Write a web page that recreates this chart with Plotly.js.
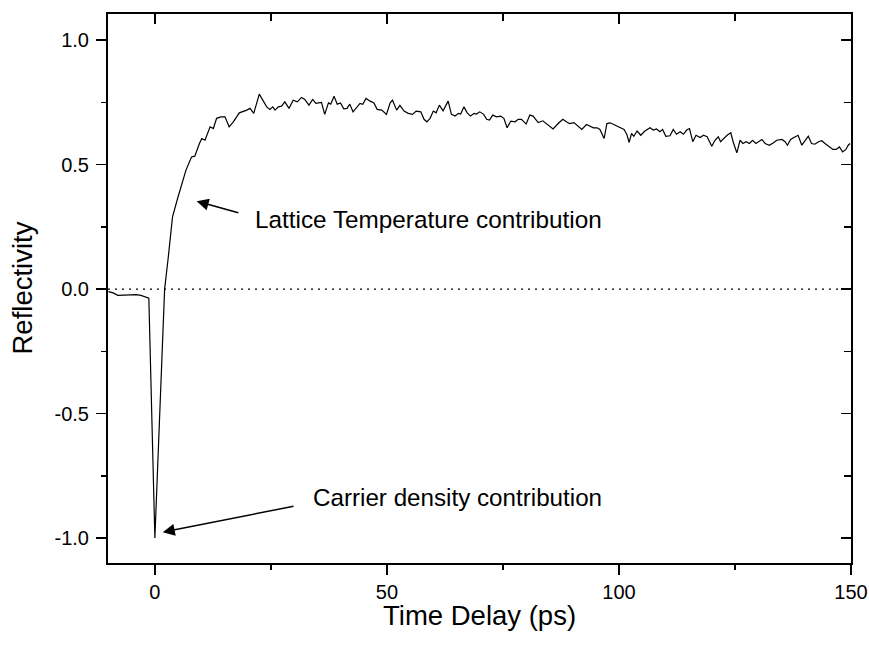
<!DOCTYPE html>
<html>
<head>
<meta charset="utf-8">
<script src="https://cdn.plot.ly/plotly-3.0.1.min.js"></script>
<style>html,body{margin:0;padding:0;background:#fff;}#chart{width:869px;height:648px;}</style>
</head>
<body>
<div id="chart"></div>
<script>
// Time delay (ps)
const timeDelay = [
-10,-9,-8,-7,-6,-5,-4,-3,-2,-1.3,0,
2.1,2.9,3.8,5.0,6.7,7.9,8.6,9.6,10.1,10.8,11.9,12.6,13.3,14.2,15.1,16.0,16.9,18.2,19.0,19.8,20.5,21.3,22.5,23.3,24.1,24.8,25.4,25.9,26.6,27.3,28.0,28.9,
29.8,30.7,31.6,32.3,33.2,34.0,34.7,35.9,36.6,37.4,37.9,38.6,39.3,40.0,40.7,41.4,42.0,42.7,43.5,44.2,44.8,45.5,46.3,47.2,47.9,48.9,49.9,
50.7,51.2,52.1,52.8,53.7,54.6,55.5,56.3,57.3,58.0,58.6,59.3,60.0,60.6,61.3,62.1,63.2,63.9,64.7,65.4,65.9,66.6,67.3,68.0,68.8,69.3,
70.0,70.8,71.5,72.1,72.8,73.6,74.5,75.2,75.9,76.7,77.6,78.3,79.0,80.0,80.8,81.5,82.6,83.6,84.8,85.8,86.9,87.9,88.9,89.4,90.3,91.2,92.0,
93.0,93.9,94.5,95.3,95.9,96.8,97.4,98.1,99.1,100.2,101.1,101.7,102.2,102.7,103.2,103.9,104.7,105.6,106.7,107.4,108.1,108.8,109.4,110.1,111.0,
111.7,112.4,113.2,113.9,114.6,115.2,115.9,116.6,117.5,118.2,119.0,120.0,120.7,121.4,121.9,122.6,123.3,124.1,124.6,125.4,126.1,126.7,127.4,128.1,
128.8,129.5,130.0,130.8,131.5,132.4,133.3,134.0,135.1,135.8,136.3,137.0,137.7,138.6,139.4,140.1,140.8,141.5,142.2,143.0,143.7,144.4,145.1,
146.1,146.8,147.5,148.2,148.9,149.4,149.8
];
// Reflectivity (normalised)
const reflectivity = [
-0.010,-0.015,-0.025,-0.024,-0.022,-0.023,-0.022,-0.025,-0.030,-0.036,-1.000,
0.000,0.130,0.290,0.371,0.478,0.531,0.534,0.585,0.605,0.598,0.652,0.645,0.686,0.692,0.692,0.652,0.672,0.708,0.712,0.719,0.726,0.706,0.783,0.759,0.732,0.722,0.732,0.719,0.732,0.735,0.752,0.726,
0.759,0.752,0.770,0.762,0.739,0.762,0.746,0.750,0.702,0.748,0.743,0.775,0.743,0.748,0.724,0.726,0.743,0.712,0.730,0.746,0.742,0.766,0.756,0.748,0.722,0.719,0.702,
0.748,0.759,0.719,0.738,0.715,0.706,0.702,0.715,0.712,0.682,0.672,0.686,0.715,0.708,0.739,0.716,0.755,0.702,0.695,0.706,0.703,0.732,0.708,0.695,0.706,0.703,
0.712,0.703,0.682,0.679,0.699,0.692,0.695,0.686,0.648,0.675,0.672,0.682,0.682,0.663,0.699,0.695,0.669,0.676,0.659,0.643,0.665,0.682,0.669,0.665,0.669,0.652,0.641,
0.661,0.652,0.648,0.648,0.641,0.605,0.665,0.668,0.659,0.649,0.641,0.621,0.589,0.625,0.614,0.635,0.618,0.635,0.648,0.639,0.643,0.632,0.641,0.614,0.616,
0.641,0.622,0.632,0.622,0.639,0.645,0.592,0.618,0.609,0.618,0.612,0.574,0.598,0.612,0.592,0.605,0.618,0.628,0.592,0.547,0.598,0.585,0.592,0.585,
0.598,0.585,0.592,0.601,0.585,0.578,0.588,0.598,0.601,0.592,0.578,0.601,0.609,0.618,0.578,0.598,0.614,0.585,0.582,0.592,0.596,0.585,0.574,
0.561,0.561,0.571,0.551,0.561,0.578,0.585
];
const xRange = [-10.1, 150];
const yRange = [-1.1, 1.105];
const xTicks = [0, 50, 100, 150];
const yTicks = [-1.0, -0.5, 0.0, 0.5, 1.0];
const yTickText = ['-1.0', '-0.5', '0.0', '0.5', '1.0'];
const xTitle = 'Time Delay (ps)';
const yTitle = 'Reflectivity';
const labelLattice = 'Lattice Temperature contribution';
const labelCarrier = 'Carrier density contribution';

const FONT = '"Liberation Sans", Arial, Helvetica, sans-serif';

const traces = [
  {
    x: timeDelay, y: reflectivity, type: 'scatter', mode: 'lines',
    line: {color: '#000', width: 1.2}, hoverinfo: 'skip', showlegend: false
  },
  {
    x: xRange, y: [0, 0], type: 'scatter', mode: 'lines',
    xaxis: 'x2', yaxis: 'y2',
    line: {color: '#000', width: 1.3, dash: '2px,5px'}, hoverinfo: 'skip', showlegend: false
  }
];

const common = {
  showgrid: false, zeroline: false, showline: true, linecolor: '#000', linewidth: 2,
  tickcolor: '#000', tickwidth: 1.5, ticklen: 10
};

const layout = {
  width: 869, height: 648,
  margin: {l: 108, r: 18, t: 14, b: 85},
  paper_bgcolor: '#fff', plot_bgcolor: '#fff',
  font: {family: FONT, color: '#000', size: 20},
  xaxis: Object.assign({}, common, {
    range: xRange, tickmode: 'array', tickvals: xTicks, ticks: 'outside',
    tickfont: {family: FONT, size: 20, color: '#000'},
    minor: {dtick: 25, tick0: 0, ticks: 'outside', ticklen: 5, tickwidth: 1.5, tickcolor: '#000'}
  }),
  yaxis: Object.assign({}, common, {
    range: yRange, tickmode: 'array', tickvals: yTicks, ticktext: yTickText, ticks: 'outside',
    tickfont: {family: FONT, size: 20, color: '#000'}, ticklabelstandoff: 3,
    minor: {dtick: 0.25, tick0: 0, ticks: 'outside', ticklen: 5, tickwidth: 1.5, tickcolor: '#000'}
  }),
  xaxis2: Object.assign({}, common, {
    range: xRange, overlaying: 'x', side: 'top', anchor: 'y2',
    tickmode: 'array', tickvals: xTicks, ticks: 'inside', showticklabels: false,
    minor: {dtick: 25, tick0: 0, ticks: 'inside', ticklen: 7, tickwidth: 1.5, tickcolor: '#000'}
  }),
  yaxis2: Object.assign({}, common, {
    range: yRange, overlaying: 'y', side: 'right', anchor: 'x2',
    tickmode: 'array', tickvals: yTicks, ticks: 'inside', showticklabels: false,
    minor: {dtick: 0.25, tick0: 0, ticks: 'inside', ticklen: 7, tickwidth: 1.5, tickcolor: '#000'}
  }),
  annotations: [
    {xref: 'paper', yref: 'paper', x: 0.5, y: 0, yshift: -52, text: xTitle, showarrow: false,
     xanchor: 'center', yanchor: 'middle', font: {family: FONT, size: 27.5, color: '#000'}},
    {xref: 'paper', yref: 'paper', x: 0, y: 0.5, xshift: -86, text: yTitle, showarrow: false, textangle: -90,
     xanchor: 'center', yanchor: 'middle', font: {family: FONT, size: 27.5, color: '#000'}},
    {xref: 'x', yref: 'y', x: 21.1, y: 0.28, text: labelLattice, showarrow: false,
     xanchor: 'left', yanchor: 'middle', font: {family: FONT, size: 24.3, color: '#000'}},
    {xref: 'x', yref: 'y', x: 33.6, y: -0.835, text: labelCarrier, showarrow: false,
     xanchor: 'left', yanchor: 'middle', font: {family: FONT, size: 24.2, color: '#000'}},
    {xref: 'x', yref: 'y', axref: 'x', ayref: 'y', x: 9.0, y: 0.353, ax: 18.3, ay: 0.305,
     text: '', showarrow: true, arrowhead: 2, arrowsize: 1.6, arrowwidth: 1.5, arrowcolor: '#000', standoff: 0},
    {xref: 'x', yref: 'y', axref: 'x', ayref: 'y', x: 1.7, y: -0.976, ax: 30.2, ay: -0.871,
     text: '', showarrow: true, arrowhead: 2, arrowsize: 1.6, arrowwidth: 1.5, arrowcolor: '#000', standoff: 0}
  ]
};

Plotly.newPlot('chart', traces, layout, {displayModeBar: false, staticPlot: true});
</script>
</body>
</html>
